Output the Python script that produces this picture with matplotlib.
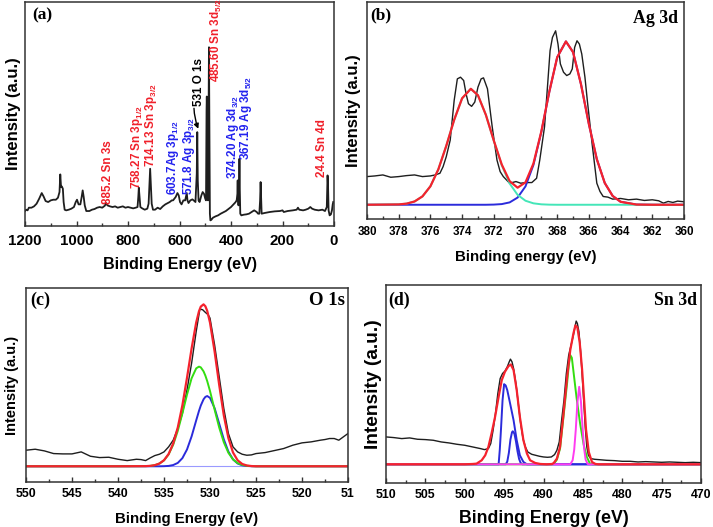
import matplotlib
matplotlib.use('Agg')
import matplotlib.pyplot as plt
from matplotlib.ticker import MultipleLocator, FixedLocator, FixedFormatter

plt.rcParams['font.family'] = ['Liberation Sans', 'DejaVu Sans']
plt.rcParams['font.weight'] = 'bold'
plt.rcParams['axes.labelweight'] = 'bold'
plt.rcParams['mathtext.fontset'] = 'custom'
plt.rcParams['mathtext.rm'] = 'Liberation Sans:bold'
plt.rcParams['mathtext.bf'] = 'Liberation Sans:bold'
plt.rcParams['mathtext.default'] = 'rm'

# ---------------- (a) survey spectrum ----------------
survey_be = [1200, 1195, 1190, 1185, 1175, 1165, 1155, 1145, 1135, 1128, 1120, 1110, 1100, 1090, 1080,
             1072, 1066, 1063, 1060, 1057, 1053, 1050, 1046, 1040, 1030, 1020, 1010, 1003, 998, 992,
             985, 980, 976, 972, 968, 962, 950, 940, 930, 920, 910, 900, 890, 885, 880, 870, 860, 850,
             840, 830, 820, 810, 800, 790, 780, 770, 763, 760, 758, 755, 752, 745, 735, 725, 720, 716,
             714, 712, 708, 703, 695, 685, 675, 665, 655, 645, 638, 630, 625, 615, 608, 603, 598, 592,
             585, 578, 574, 571.8, 569, 565, 558, 550, 545, 538, 533, 531, 529, 526, 522, 515, 510, 505,
             500, 497, 495, 494, 493, 491, 489, 487, 485.6, 484, 482, 480, 476, 470, 460, 450, 440, 430,
             420, 410, 400, 390, 383, 378, 375, 374, 373, 371, 369, 367.2, 366, 364, 360, 350, 340, 330,
             320, 310, 300, 295, 290, 287, 285, 283, 281, 270, 250, 230, 210, 200, 195, 180, 160, 145,
             140, 135, 120, 110, 100, 92, 85, 75, 60, 45, 35, 28, 25, 23, 21, 17, 12, 8, 5, 3]
survey_y = [632, 628, 630, 622, 622, 618, 610, 595, 578, 588, 602, 605, 600, 598, 598,
            592, 575, 522, 560, 558, 565, 605, 628, 630, 628, 625, 620, 605, 598, 612,
            612, 590, 570, 590, 615, 632, 632, 628, 626, 622, 620, 622, 616, 608, 615, 618, 620, 618,
            622, 620, 618, 622, 620, 622, 624, 622, 620, 590, 562, 590, 620, 624, 628, 625, 610, 540,
            505, 540, 610, 628, 628, 622, 626, 618, 612, 608, 605, 600, 600, 590, 578, 585, 605, 612,
            600, 600, 585, 578, 600, 608, 600, 597, 600, 605, 520, 395, 540, 600, 605, 585, 575, 580,
            595, 600, 330, 288, 330, 595, 600, 300, 140, 350, 640, 660, 658, 652, 648, 645, 640, 636,
            632, 626, 620, 612, 606, 600, 580, 540, 600, 615, 600, 475, 560, 640, 645, 643, 642, 640,
            635, 630, 635, 640, 640, 600, 545, 590, 640, 638, 635, 633, 632, 630, 635, 632, 630, 628,
            622, 628, 630, 628, 625, 620, 625, 628, 630, 628, 632, 620, 525, 560, 630, 645, 642, 630, 612, 605]
survey_int = [677 - v for v in survey_y]

ann_text = ['885.2 Sn 3s', '758.27 Sn 3p$_{1/2}$', '714.13 Sn 3p$_{3/2}$', '603.7Ag 3p$_{1/2}$',
            '571.8 Ag 3p$_{3/2}$', '485.60 Sn 3d$_{5/2}$', '374.20 Ag 3d$_{3/2}$',
            '367.19 Ag 3d$_{5/2}$', '24.4 Sn 4d']
ann_be = [877, 764, 709, 625, 564, 456, 394, 340, 45]
ann_int = [67, 112, 177, 92, 92, 432, 142, 197, 147]
ann_color = ['#f0202a', '#f0202a', '#f0202a', '#2222ee', '#2222ee', '#f0202a', '#2222ee', '#2222ee', '#f0202a']

# ---------------- (b) Ag 3d ----------------
b_be = [380, 379.5, 379, 378.5, 378, 377.5, 377, 376.5, 376, 375.7, 375.4, 375.2, 375.0, 374.75,
        374.5, 374.3, 374.1, 373.9, 373.75, 373.6, 373.4, 373.2, 373.0, 372.8, 372.65, 372.4, 372.1,
        371.8, 371.6, 371.4, 371.0, 370.6, 370.3, 370.0, 369.6, 369.3, 369.1, 368.8, 368.6, 368.45,
        368.3, 368.1, 367.95, 367.8, 367.6, 367.4, 367.2, 367.05, 366.9, 366.75, 366.6, 366.45,
        366.25, 366.1, 365.8, 365.5, 365.3, 365.1, 364.8, 364.5, 364, 363.5, 363, 362.5, 362,
        361.6, 361.3, 361.0, 360.7, 360.4, 360]
b_int = [128, 130, 133, 126, 128, 131, 133, 128, 130, 133, 138, 158, 188, 238,
         358, 423, 428, 418, 378, 348, 340, 353, 398, 423, 426, 393, 278,
         178, 143, 128, 108, 113, 108, 110, 110, 123, 178, 278, 408, 508,
         548, 568, 528, 468, 443, 433, 438, 453, 518, 538, 528, 498,
         428, 358, 228, 108, 83, 68, 66, 60, 62, 58, 60, 56, 58,
         55, 48, 53, 50, 54, 52]
b_fit_be = [380, 378, 377.5, 377, 376.5, 376, 375.5, 375, 374.5, 374, 373.45, 373, 372.5, 372,
            371.5, 371, 370.5, 370, 369.5, 369, 368.5, 368, 367.45, 367, 366.5, 366, 365.5, 365,
            364.5, 364, 363, 362, 360]
b_cyan = [43, 44, 46.4, 52.9, 68.3, 98.7, 149.7, 220.5, 299.3, 364.3, 393, 373.5, 314.2, 236.2,
          162.5, 107.1, 72.9, 55.1, 47.3, 44.3, 43.3, 43, 43, 43, 43, 43, 43, 43,
          43, 43, 43, 43, 43]
b_blue = [43, 43, 43, 43, 43, 43, 43, 43, 43, 43, 43, 43, 43, 43.5,
          45, 50.1, 64.6, 98.5, 163.1, 263, 383.5, 488.2, 536, 503.6, 407, 286.3, 180.5, 108.7,
          69.5, 52, 43.6, 43, 43]
b_red = [43, 44, 46.4, 52.9, 68.3, 98.7, 149.7, 220.5, 299.3, 364.3, 393, 373.5, 314.2, 236.7,
         164.5, 114.2, 94.5, 110.6, 167.4, 264.3, 383.8, 488.2, 536, 503.6, 407, 286.3, 180.5, 108.7,
         69.5, 52, 43.6, 43, 43]

# ---------------- (c) O 1s ----------------
c_be = [550, 549, 548, 547, 546, 545, 544, 543, 542, 541, 540, 539, 538, 537.5, 537, 536.5, 536,
        535.5, 535, 534.5, 534, 533.5, 533, 532.5, 532, 531.5, 531.1, 530.8, 530.5, 530.2, 530,
        529.5, 529, 528.5, 528, 527.5, 527, 526.5, 526, 525.5, 525, 524, 523, 522, 521, 520, 519,
        518, 517.5, 517, 516.5, 516, 515.5, 515]
c_int = [95, 98, 93, 85, 84, 84, 90, 77, 73, 74, 68, 64, 68, 67, 64, 72, 79,
         83, 90, 105, 125, 160, 205, 275, 355, 450, 517, 515, 507, 500, 490,
         410, 315, 220, 145, 105, 90, 83, 80, 81, 85, 88, 94, 100, 110, 117, 120,
         125, 127, 130, 130, 125, 135, 145]
c_fit_be = [550, 540, 537, 536.5, 536, 535.5, 535, 534.5, 534, 533.5, 533, 532.5, 532, 531.5,
            531.2, 531, 530.7, 530.5, 530.3, 530, 529.5, 529, 528.5, 528, 527.5, 527, 526.5, 526,
            525.5, 525, 524, 520, 515]
c_green = [47, 47, 47.4, 48.2, 50.3, 55.1, 64.8, 82.5, 111.5, 153.1, 205.3, 261.2, 310, 339.8,
           345, 342.7, 330.8, 317.8, 301.4, 272, 216.5, 162.8, 118.8, 87.3, 67.6, 56.5, 51, 48.5,
           47.5, 47, 47, 47, 47]
c_blue = [47, 47, 47, 47, 47, 47, 47.3, 48.1, 50.7, 57.1, 71.3, 97.2, 136.3, 184.2,
          212.3, 228.7, 247.3, 254.5, 257, 251.5, 220.8, 174.4, 127.5, 90.9, 67.6, 55.4, 49.9, 47.9,
          47.2, 47, 47, 47, 47]
c_red = [47, 47, 47.4, 48.2, 50.3, 55.1, 65.1, 83.6, 115.2, 163.2, 229.6, 311.4, 399.3, 477,
         510.3, 524.4, 531.1, 525.3, 511.4, 476.5, 390.3, 290.2, 199.3, 131.2, 88.2, 64.9, 53.9, 49.4,
         47.7, 47, 47, 47, 47]
c_background = 47
c_ticklabels = ['550', '545', '540', '535', '530', '525', '520', '51']

# ---------------- (d) Sn 3d ----------------
d_be = [510, 509, 508, 507, 506, 505, 504, 503, 502, 501, 500, 499, 498, 497.5, 497, 496.7, 496.4,
        496.1, 495.8, 495.5, 495.2, 494.9, 494.6, 494.35, 494.2, 494.0, 493.8, 493.5, 493.2, 492.9,
        492.6, 492.3, 492.0, 491.5, 491, 490.5, 490, 489.5, 489, 488.6, 488.3, 488.0, 487.7, 487.4,
        487.1, 486.8, 486.5, 486.2, 486.0, 485.85, 485.7, 485.5, 485.3, 485.1, 484.9, 484.7, 484.5,
        484.3, 484.0, 483.5, 483, 482, 481, 480, 479, 478, 477, 476, 475, 474, 473, 472, 471, 470]
d_int = [138, 136, 133, 135, 131, 130, 128, 123, 120, 116, 113, 108, 103, 100, 103, 118, 158,
         208, 268, 313, 328, 335, 348, 363, 371, 363, 343, 298, 238, 178,
         133, 108, 93, 86, 83, 80, 78, 77, 78, 85, 98, 123, 188, 248,
         328, 383, 413, 443, 468, 485, 478, 453, 398, 328, 248, 168, 108,
         83, 73, 71, 70, 68, 67, 65, 65, 63, 64, 63, 62, 63, 62, 61, 62, 61]
d_red_be = [510, 500, 499, 498.5, 497.85, 497.4, 497.0, 496.6, 496.15, 495.7, 495.3, 494.9, 494.45,
            494.15, 493.8, 493.4, 493.0, 492.55, 492.1, 491.7, 491.05, 490.4, 489.6, 488.9, 488.7,
            488.3, 487.9, 487.5, 487.0, 486.6, 486.2, 485.95, 485.7, 485.4, 485.1, 484.9, 484.6,
            484.25, 483.85, 483.4, 483.0, 470]
d_red = [56, 56, 57, 58, 68, 83, 108, 148, 198, 258, 308, 333, 350,
         355, 338, 278, 198, 128, 88, 68, 60, 57, 56, 57, 60,
         73, 108, 198, 318, 398, 448, 472, 466, 420, 340, 270, 160,
         93, 63, 57, 56, 56]
d_blue1_be = [510, 495.7, 495.55, 495.4, 495.2, 495.0, 494.8, 494.6, 494.24, 493.8, 493.4, 493.0,
              492.55, 492.1, 470]
d_blue1 = [56, 56, 100, 160, 248, 296, 292, 278, 238, 188, 128, 83, 63, 56, 56]
d_blue2_be = [510, 494.8, 494.6, 494.4, 494.2, 494.0, 493.9, 493.7, 493.5, 493.3, 493.1, 492.9, 492.7, 470]
d_blue2 = [56, 56, 64, 90, 130, 152, 155, 148, 125, 95, 72, 60, 56, 56]
d_green_be = [510, 489, 488.7, 488.3, 487.9, 487.5, 487.0, 486.8, 486.6, 486.4, 486.2, 485.8,
              485.35, 484.9, 484.5, 484.1, 483.8, 470]
d_green = [56, 56, 57, 70, 103, 190, 300, 350, 383, 375, 335, 255, 178, 115, 78, 58, 56, 56]
d_mag_be = [510, 486.6, 486.3, 486.1, 485.9, 485.7, 485.47, 485.25, 485.05, 484.85, 484.65, 484.4, 484.2, 470]
d_mag = [56, 56, 68, 100, 160, 240, 288, 245, 170, 105, 70, 57, 56, 56]

RED = '#f5222d'
BLUE = '#2b2bdb'
GREEN = '#33dd11'
CYAN = '#44e6b8'
MAG = '#ff3cf0'
DATA = '#1e1e1e'

W, H = 713.0, 527.0


def rect(l, r, t, b):
    return [l / W, (H - b) / H, (r - l) / W, (b - t) / H]


def style(ax, xlim, ylim, major, minor, tsize, tpad):
    ax.set_xlim(*xlim)
    ax.set_ylim(*ylim)
    ax.xaxis.set_major_locator(MultipleLocator(major))
    ax.xaxis.set_minor_locator(MultipleLocator(minor))
    ax.set_yticks([])
    ax.tick_params(axis='x', which='both', direction='in', top=False, labelsize=tsize, pad=tpad,
                   color='#333333', width=1.0)
    ax.tick_params(axis='x', which='major', length=3.5)
    ax.tick_params(axis='x', which='minor', length=2.2)
    for s in ax.spines.values():
        s.set_linewidth(1.1)
        s.set_color('#333333')
    for lab in ax.get_xticklabels():
        lab.set_fontweight('bold')


fig = plt.figure(figsize=(7.13, 5.27), dpi=100)

# (a)
axa = fig.add_axes(rect(25, 334, 2, 226))
axa.plot(survey_be, survey_int, color=DATA, lw=1.3)
style(axa, (1200, 0), (0, 673), 200, 100, 10.8, 6)
for t, x, y, c in zip(ann_text, ann_be, ann_int, ann_color):
    axa.text(x, y, t, rotation=90, ha='center', va='bottom', color=c, fontsize=8.4, fontweight='bold')
axa.annotate('531 O 1s', xy=(527, 292), xytext=(524, 362), rotation=90, ha='center', va='bottom',
             color='black', fontsize=8.4, fontweight='bold',
             arrowprops=dict(arrowstyle='-|>', color='black', lw=1.0, mutation_scale=7,
                             shrinkA=0, shrinkB=0, connectionstyle='arc3,rad=0.2'))
axa.set_xlabel('Binding Energy (eV)', fontsize=11.6, fontweight='bold', labelpad=6)
axa.set_ylabel('Intensity (a.u.)', fontsize=12, fontweight='bold', labelpad=3)
axa.text(0.023, 0.975, '(a)', transform=axa.transAxes, ha='left', va='top',
         family='Liberation Serif', fontsize=12.5, fontweight='bold')

# (b)
axb = fig.add_axes(rect(367, 684, 2, 219))
axb.plot(b_be, b_int, color=DATA, lw=1.0)
axb.plot(b_fit_be, b_blue, color=BLUE, lw=1.4)
axb.plot(b_fit_be, b_cyan, color=CYAN, lw=1.4)
axb.plot(b_fit_be, b_red, color=RED, lw=1.6)
style(axb, (380, 360), (0, 655), 2, 1, 8.4, 5)
axb.set_xlabel('Binding energy (eV)', fontsize=10.8, fontweight='bold', labelpad=9)
axb.set_ylabel('Intensity (a.u.)', fontsize=12, fontweight='bold', labelpad=4)
axb.text(0.01, 0.977, '(b)', transform=axb.transAxes, ha='left', va='top',
         family='Liberation Serif', fontsize=12.5, fontweight='bold')
axb.text(0.981, 0.963, 'Ag 3d', transform=axb.transAxes, ha='right', va='top',
         family='Liberation Serif', fontsize=12.8, fontweight='bold')

# (c)
axc = fig.add_axes(rect(26, 348, 288, 482))
axc.plot(c_be, c_int, color=DATA, lw=1.0)
axc.axhline(c_background, color='#9a9aff', lw=0.8)
axc.plot(c_fit_be, c_blue, color=BLUE, lw=1.4)
axc.plot(c_fit_be, c_green, color=GREEN, lw=1.4)
axc.plot(c_fit_be, c_red, color=RED, lw=1.6)
style(axc, (550, 515), (0, 580), 5, 2.5, 8.9, 4)
axc.xaxis.set_major_locator(FixedLocator([550, 545, 540, 535, 530, 525, 520, 515]))
axc.xaxis.set_major_formatter(FixedFormatter(c_ticklabels))
axc.set_xlabel('Binding Energy (eV)', fontsize=10.8, fontweight='bold', labelpad=9)
axc.set_ylabel('Intensity (a.u.)', fontsize=10.5, fontweight='bold', labelpad=5)
axc.text(0.012, 0.979, '(c)', transform=axc.transAxes, ha='left', va='top',
         family='Liberation Serif', fontsize=13, fontweight='bold')
axc.text(0.99, 0.979, 'O 1s', transform=axc.transAxes, ha='right', va='top',
         family='Liberation Serif', fontsize=13.5, fontweight='bold')

# (d)
axd = fig.add_axes(rect(386, 701, 285, 483))
axd.plot(d_be, d_int, color=DATA, lw=1.0)
axd.plot(d_blue1_be, d_blue1, color=BLUE, lw=1.4)
axd.plot(d_blue2_be, d_blue2, color=BLUE, lw=1.4)
axd.plot(d_green_be, d_green, color=GREEN, lw=1.4)
axd.plot(d_mag_be, d_mag, color=MAG, lw=1.4)
axd.plot(d_red_be, d_red, color=RED, lw=1.6)
style(axd, (510, 470), (0, 593), 5, 2.5, 8.9, 4)
axd.set_xlabel('Binding Energy (eV)', fontsize=12.8, fontweight='bold', labelpad=7)
axd.set_ylabel('Intensity (a.u.)', fontsize=13.8, fontweight='bold', labelpad=3)
axd.text(0.006, 0.965, '(d)', transform=axd.transAxes, ha='left', va='top',
         family='Liberation Serif', fontsize=12.8, fontweight='bold')
axd.text(0.987, 0.965, 'Sn 3d', transform=axd.transAxes, ha='right', va='top',
         family='Liberation Serif', fontsize=12.8, fontweight='bold')

fig.savefig('out.png', dpi=100)
